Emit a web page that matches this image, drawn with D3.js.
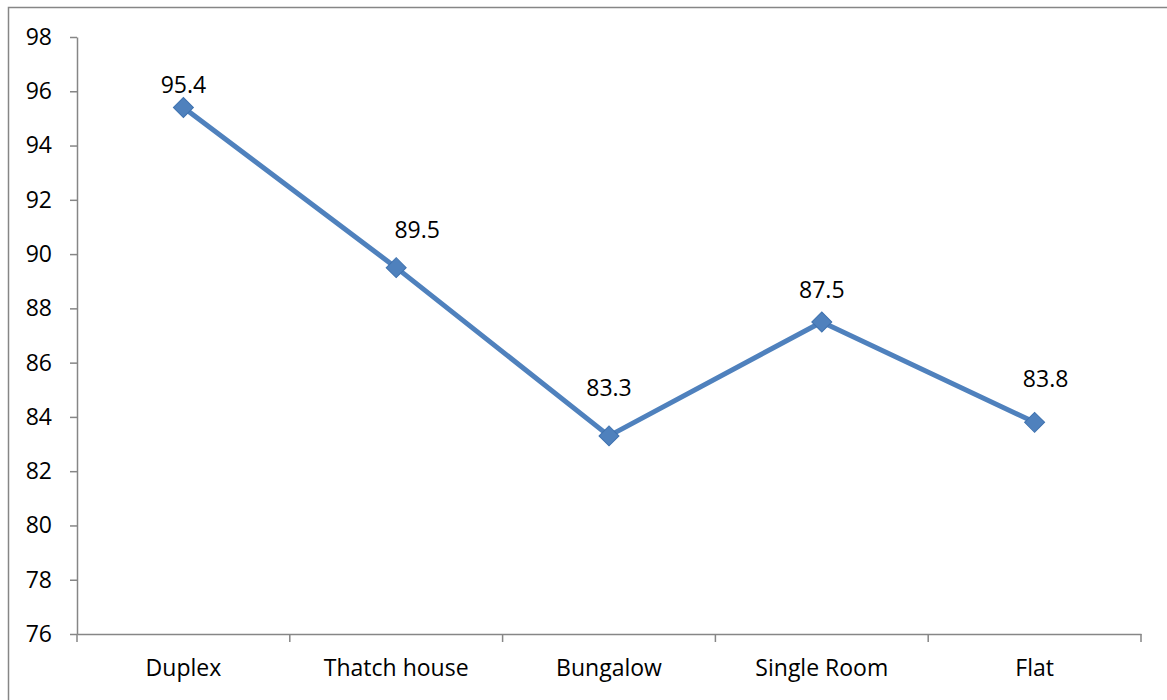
<!DOCTYPE html>
<html>
<head>
<meta charset="utf-8">
<script src="https://cdn.jsdelivr.net/npm/d3@7"></script>
<style>
  body { margin: 0; background: #fff; }
  svg { display: block; font-family: "Open Sans", "Liberation Sans", sans-serif; }
</style>
</head>
<body>
<svg width="1167" height="700"></svg>
<script>
const categories = ["Duplex", "Thatch house", "Bungalow", "Single Room", "Flat"];
const values = [95.4, 89.5, 83.3, 87.5, 83.8];
const yTicks = [76, 78, 80, 82, 84, 86, 88, 90, 92, 94, 96, 98];

// label placement nudges (px), as laid out in the original
const labelDx = [0, 21, 0, 0, 11];
const labelDy = [-15, -30, -40, -24, -35];

const svg = d3.select("svg");
const FONT = "\"Open Sans\", \"Liberation Sans\", sans-serif";

// chart border
svg.append("path")
    .attr("d", "M8.5,710 V7.5 H1170")
    .attr("fill", "none")
    .attr("stroke", "#868686")
    .attr("stroke-width", 1.5);

const mLeft = 77, mRight = 1141, mTop = 37, mBottom = 634;

const x = d3.scaleBand().domain(categories).range([mLeft, mRight]);
const y = d3.scaleLinear().domain([76, 98]).range([mBottom, mTop]);

const yAxis = svg.append("g")
    .attr("transform", `translate(${mLeft},0)`)
    .call(d3.axisLeft(y).tickValues(yTicks).tickSize(7).tickPadding(18).tickSizeOuter(0));

const xAxis = svg.append("g")
    .attr("transform", `translate(0,${mBottom})`)
    .call(d3.axisBottom(x).tickSize(0).tickPadding(26).tickSizeOuter(0));

// category separator ticks
xAxis.selectAll(".sep")
    .data(d3.range(categories.length + 1))
    .enter()
    .append("line")
    .attr("class", "sep")
    .attr("x1", i => mLeft + i * x.step())
    .attr("x2", i => mLeft + i * x.step())
    .attr("y1", 0)
    .attr("y2", 8)
    .attr("stroke", "#868686")
    .attr("stroke-width", 1.5);

[yAxis, xAxis].forEach(g => {
    g.selectAll(".domain, .tick line").attr("stroke", "#868686").attr("stroke-width", 1.5);
    g.selectAll("text").attr("font-size", 23).attr("fill", "#000").style("font-family", FONT);
});

const pts = categories.map((c, i) => ({
    x: x(c) + x.bandwidth() / 2,
    y: y(values[i]),
    v: values[i],
    i: i
}));

svg.append("path")
    .datum(pts)
    .attr("fill", "none")
    .attr("stroke", "#4F81BD")
    .attr("stroke-width", 5)
    .attr("stroke-linejoin", "round")
    .attr("d", d3.line().x(d => d.x).y(d => d.y));

svg.selectAll(".marker")
    .data(pts)
    .enter()
    .append("path")
    .attr("class", "marker")
    .attr("d", d3.symbol().type(d3.symbolSquare).size(200))
    .attr("transform", d => `translate(${d.x},${d.y}) rotate(45)`)
    .attr("fill", "#4F81BD")
    .attr("stroke", "#3F72AF")
    .attr("stroke-width", 1);

svg.selectAll(".lbl")
    .data(pts)
    .enter()
    .append("text")
    .attr("class", "lbl")
    .attr("x", d => d.x + labelDx[d.i])
    .attr("y", d => d.y + labelDy[d.i])
    .attr("text-anchor", "middle")
    .attr("font-size", 23)
    .attr("fill", "#000")
    .style("font-family", FONT)
    .text(d => d.v.toFixed(1));
</script>
</body>
</html>
